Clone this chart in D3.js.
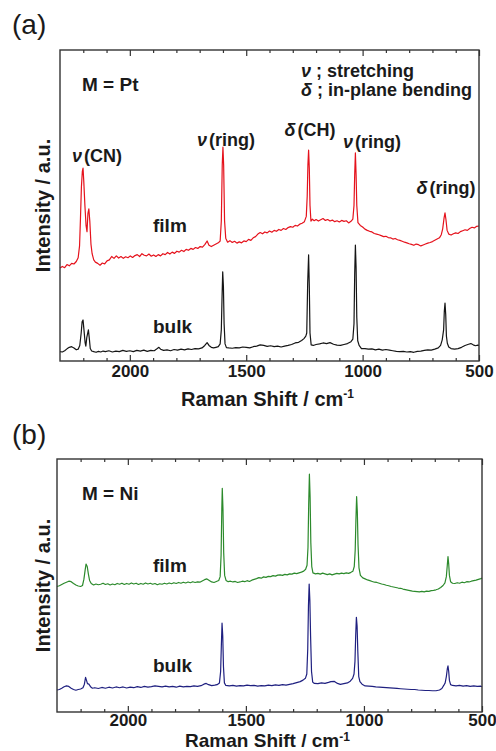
<!DOCTYPE html>
<html>
<head>
<meta charset="utf-8">
<script src="https://cdn.jsdelivr.net/npm/d3@7/dist/d3.min.js"></script>
<style>
  body { margin: 0; background: #fff; }
  svg text { font-family: "Liberation Sans", Arial, sans-serif; font-weight: bold; fill: #1a1a1a; }
</style>
</head>
<body>
<svg id="chart" width="496" height="751"></svg>
<script>

// x axis (Raman shift, cm-1)
var shiftDomain = [2300, 500];
var majorTicks = [2000, 1500, 1000, 500];
var minorTicks = [2200, 2100, 1900, 1800, 1700, 1600, 1400, 1300, 1200, 1100, 900, 800, 700, 600];

// spectra: [raman shift, intensity a.u.]
var ptFilm = [
  [2300,29.9],[2290,30.4],[2280,30.0],[2270,31.0],[2260,30.6],[2250,31.4],[2240,31.2],[2230,32.0],
  [2222,33.2],[2216,37.0],[2212,46.0],[2208,56.0],[2204,61.0],[2201,62.0],[2198,58.0],[2193,50.0],
  [2188,43.5],[2184,41.6],[2180,47.5],[2176,48.9],[2172,45.0],[2167,37.6],[2162,34.5],[2155,32.5],
  [2148,31.8],[2138,31.4],[2128,30.8],[2118,31.5],[2108,31.2],[2098,32.2],[2088,32.5],[2078,33.6],
  [2068,33.0],[2058,33.8],[2048,33.1],[2038,33.6],[2028,33.0],[2018,33.5],[2008,33.2],[1998,33.8],
  [1988,33.3],[1978,33.9],[1968,34.2],[1958,33.6],[1948,34.5],[1938,34.0],[1928,33.8],[1918,34.4],
  [1908,33.7],[1898,34.1],[1888,33.6],[1878,34.2],[1868,33.8],[1858,34.5],[1848,34.2],[1838,34.9],
  [1828,34.4],[1818,35.0],[1808,34.6],[1798,35.3],[1788,35.0],[1778,35.6],[1768,35.2],[1758,35.9],
  [1748,35.6],[1738,36.2],[1728,35.9],[1718,36.5],[1708,36.2],[1698,36.8],[1688,36.6],[1678,37.4],
  [1668,38.6],[1660,37.2],[1650,36.8],[1640,37.2],[1630,37.6],[1620,38.0],[1612,38.6],[1607,45.0],
  [1603,63.0],[1600,68.8],[1597,63.0],[1593,45.0],[1588,39.5],[1580,38.2],[1570,38.7],[1560,38.1],
  [1550,38.5],[1540,37.9],[1530,38.3],[1520,38.0],[1510,38.6],[1500,38.4],[1490,39.1],[1480,38.8],
  [1470,39.6],[1460,40.0],[1450,40.8],[1440,41.3],[1430,40.9],[1420,41.5],[1410,41.2],[1400,41.8],
  [1390,41.4],[1380,42.0],[1370,41.7],[1360,42.3],[1350,42.0],[1340,42.6],[1330,42.3],[1320,42.9],
  [1310,43.2],[1300,43.0],[1290,43.6],[1280,43.4],[1270,44.0],[1260,44.3],[1250,44.8],[1242,46.5],
  [1238,53.0],[1235,63.0],[1232,67.8],[1229,62.0],[1226,50.0],[1222,45.0],[1216,45.6],[1208,45.1],
  [1200,45.5],[1190,45.0],[1180,45.4],[1170,45.8],[1160,45.2],[1150,45.5],[1140,45.0],[1130,45.3],
  [1120,44.8],[1110,45.1],[1100,44.7],[1090,45.2],[1080,44.9],[1070,45.1],[1060,44.4],[1050,44.9],
  [1042,45.6],[1037,50.0],[1034,60.0],[1031,66.9],[1028,60.0],[1025,50.0],[1020,44.5],[1010,43.6],
  [1000,43.1],[990,42.4],[980,42.0],[970,41.7],[960,41.5],[950,41.0],[940,40.8],[930,40.6],
  [920,40.3],[910,40.0],[900,40.1],[890,39.7],[880,39.6],[870,39.2],[860,39.4],[850,39.0],
  [840,38.8],[830,38.5],[820,38.2],[810,38.0],[800,37.7],[790,37.5],[780,37.2],[770,37.6],
  [760,37.4],[750,37.0],[740,37.3],[730,37.6],[720,37.9],[710,38.1],[700,38.4],[690,38.8],
  [680,39.2],[670,39.6],[662,40.6],[656,42.5],[650,46.0],[646,47.6],[642,45.5],[637,42.0],
  [630,40.8],[620,40.5],[610,40.9],[600,41.2],[590,41.0],[580,41.6],[570,41.9],[560,42.2],
  [550,42.0],[540,42.6],[530,43.0],[520,42.8],[510,43.3],[500,43.4]
];

var ptBulk = [
  [2300,3.0],[2290,2.9],[2280,3.3],[2270,3.9],[2260,4.4],[2250,4.6],[2240,4.2],[2230,3.6],
  [2222,3.8],[2215,5.0],[2209,9.0],[2205,12.6],[2201,13.2],[2197,10.0],[2192,5.8],[2189,4.8],
  [2185,7.5],[2178,10.0],[2174,7.2],[2170,4.0],[2164,3.2],[2155,3.0],[2145,2.8],[2135,3.1],
  [2125,2.9],[2115,3.2],[2105,3.0],[2090,3.3],[2075,2.9],[2060,3.2],[2045,3.0],[2030,3.4],
  [2015,3.1],[2000,3.3],[1985,3.0],[1970,3.4],[1955,3.2],[1940,3.5],[1925,3.1],[1910,3.4],
  [1895,3.3],[1882,4.0],[1875,4.4],[1868,3.8],[1855,3.4],[1840,3.6],[1825,3.3],[1810,3.7],
  [1795,3.5],[1780,3.8],[1765,3.6],[1750,3.9],[1735,3.7],[1720,4.0],[1705,3.9],[1690,4.2],
  [1678,5.0],[1668,5.9],[1660,5.0],[1650,4.4],[1640,4.2],[1630,4.4],[1620,4.6],[1612,5.5],
  [1607,10.0],[1604,20.0],[1601,28.7],[1598,24.0],[1595,12.0],[1591,5.5],[1585,4.3],[1575,4.2],
  [1560,4.1],[1545,4.3],[1530,4.2],[1515,4.5],[1500,4.4],[1485,4.2],[1470,4.6],[1455,4.8],
  [1440,5.2],[1425,5.0],[1410,4.7],[1395,4.9],[1380,4.6],[1365,4.8],[1350,4.5],[1335,4.8],
  [1320,5.0],[1305,5.3],[1290,5.8],[1275,6.0],[1262,6.6],[1252,7.2],[1244,8.0],[1240,9.0],
  [1236,25.0],[1232,34.1],[1229,24.0],[1226,9.0],[1221,5.2],[1212,5.0],[1200,5.3],[1185,5.5],
  [1170,5.8],[1155,5.6],[1140,5.9],[1125,5.4],[1110,5.1],[1095,5.0],[1080,5.3],[1065,5.6],
  [1050,6.2],[1042,7.0],[1037,12.0],[1034,28.0],[1031,37.3],[1028,30.0],[1025,14.0],[1021,6.5],
  [1015,5.0],[1005,4.0],[990,4.0],[975,3.8],[960,3.9],[945,3.6],[930,3.8],[915,3.5],
  [900,3.7],[885,3.5],[870,3.3],[855,3.1],[840,3.0],[825,3.1],[810,2.9],[795,3.0],
  [780,2.8],[765,3.1],[750,3.2],[735,3.4],[720,3.6],[705,3.5],[690,3.8],[675,4.2],
  [665,5.0],[658,6.8],[652,10.0],[649,16.0],[646,18.6],[643,15.0],[640,8.0],[636,5.7],
  [630,4.5],[620,4.0],[605,3.8],[590,4.0],[575,4.4],[560,5.0],[545,5.4],[535,5.6],
  [525,5.2],[515,4.9],[505,5.1],[500,5.0]
];

var niFilm = [
  [2300,49.6],[2290,49.9],[2280,50.4],[2270,50.9],[2260,51.3],[2250,51.7],[2240,51.5],[2230,50.8],
  [2220,50.2],[2210,49.8],[2200,49.6],[2192,50.0],[2186,52.5],[2181,56.0],[2177,58.5],[2172,57.5],
  [2167,54.5],[2162,52.0],[2155,50.8],[2145,50.2],[2135,50.6],[2125,50.3],[2115,50.5],[2105,50.9],
  [2095,50.4],[2085,50.7],[2075,50.2],[2065,50.6],[2055,50.3],[2045,50.8],[2035,50.5],[2025,50.9],
  [2015,50.4],[2005,50.8],[1995,50.5],[1985,51.0],[1975,50.6],[1965,50.9],[1955,50.4],[1945,50.8],
  [1935,50.5],[1925,51.0],[1915,50.6],[1905,50.9],[1895,50.5],[1885,50.8],[1875,50.3],[1865,50.7],
  [1855,50.5],[1845,50.9],[1835,50.6],[1825,51.0],[1815,50.7],[1805,51.1],[1795,50.8],[1785,51.2],
  [1775,50.9],[1765,51.3],[1755,51.0],[1745,51.4],[1735,51.1],[1725,51.5],[1715,51.2],[1705,51.4],
  [1695,51.3],[1685,51.8],[1675,52.3],[1665,52.6],[1655,52.0],[1645,51.4],[1635,51.2],[1625,51.6],
  [1615,52.0],[1609,53.5],[1605,62.0],[1602,80.0],[1600,88.4],[1597,80.0],[1594,63.0],[1590,54.0],
  [1584,52.0],[1575,51.5],[1565,51.7],[1555,51.4],[1545,51.6],[1535,51.2],[1525,51.4],[1515,51.7],
  [1505,51.5],[1495,51.9],[1485,51.6],[1475,52.1],[1465,52.4],[1455,52.7],[1445,53.1],[1435,52.9],
  [1425,53.4],[1415,53.2],[1405,53.6],[1395,53.5],[1385,53.9],[1375,53.7],[1365,54.1],[1355,54.2],
  [1345,54.0],[1335,54.4],[1325,54.2],[1315,54.6],[1305,54.5],[1295,54.9],[1285,54.7],[1275,55.0],
  [1265,55.3],[1255,55.7],[1247,56.4],[1241,58.0],[1237,65.0],[1234,82.0],[1231,94.0],[1228,85.0],
  [1225,67.0],[1221,57.5],[1216,55.0],[1205,54.6],[1195,54.8],[1185,54.5],[1175,54.9],[1165,54.6],
  [1155,54.3],[1145,54.6],[1135,54.2],[1125,54.5],[1115,54.8],[1105,54.6],[1095,54.9],[1085,54.7],
  [1075,55.0],[1065,54.8],[1055,55.2],[1047,55.6],[1041,57.5],[1037,64.0],[1034,76.0],[1031,85.1],
  [1028,79.0],[1025,66.0],[1021,57.0],[1015,54.0],[1005,53.0],[995,52.6],[985,52.2],[975,51.9],
  [965,51.6],[955,51.3],[945,51.2],[935,50.9],[925,50.6],[915,50.4],[905,50.1],[895,49.9],
  [885,49.6],[875,49.4],[865,49.2],[855,49.0],[845,48.9],[835,48.6],[825,48.4],[815,48.2],
  [805,48.0],[795,47.8],[785,47.7],[775,47.6],[765,47.5],[755,47.7],[745,47.5],[735,47.8],
  [725,47.7],[715,48.0],[705,48.1],[695,48.3],[685,48.6],[675,49.2],[665,50.0],[657,51.0],
  [651,53.5],[647,58.0],[644,61.4],[641,58.5],[638,54.0],[633,51.5],[625,50.9],[615,50.8],
  [605,51.1],[595,50.9],[585,51.3],[575,51.1],[565,51.5],[555,51.4],[545,51.7],[535,51.9],
  [525,52.1],[515,52.4],[505,52.7],[500,52.9]
];

var niBulk = [
  [2300,8.7],[2290,8.9],[2280,9.4],[2270,10.0],[2260,10.3],[2250,10.1],[2240,9.4],[2230,8.9],
  [2220,8.6],[2210,8.9],[2200,9.1],[2190,9.6],[2184,11.0],[2179,13.7],[2175,12.5],[2171,11.2],
  [2165,11.0],[2158,10.0],[2150,9.4],[2140,9.6],[2125,9.3],[2110,9.7],[2095,9.4],[2080,9.8],
  [2065,9.5],[2050,9.9],[2035,9.6],[2020,9.9],[2005,9.5],[1990,9.8],[1975,9.6],[1960,10.0],
  [1945,9.7],[1930,10.1],[1915,9.8],[1900,10.0],[1885,10.3],[1870,10.1],[1855,9.9],[1840,10.2],
  [1825,9.9],[1810,10.1],[1795,9.8],[1780,10.2],[1765,9.9],[1750,10.1],[1735,10.0],[1720,10.3],
  [1705,10.1],[1690,10.4],[1678,11.0],[1668,11.3],[1658,10.8],[1645,10.4],[1632,10.6],[1622,10.8],
  [1612,11.5],[1607,16.0],[1604,26.0],[1601,35.1],[1598,30.0],[1595,18.0],[1591,11.5],[1585,10.5],
  [1570,10.3],[1555,10.5],[1540,10.2],[1525,10.4],[1510,10.3],[1495,10.6],[1480,10.4],[1465,10.5],
  [1450,10.2],[1435,10.4],[1420,10.3],[1405,10.6],[1390,10.4],[1375,10.7],[1360,10.5],[1345,10.8],
  [1330,10.6],[1315,10.9],[1300,11.2],[1285,11.6],[1270,12.0],[1258,12.6],[1248,13.3],[1242,15.0],
  [1238,25.0],[1235,42.0],[1232,50.6],[1229,44.0],[1226,30.0],[1222,16.0],[1217,11.8],[1210,11.3],
  [1195,11.2],[1180,11.5],[1165,11.3],[1150,11.7],[1140,12.0],[1125,12.1],[1112,11.3],[1100,10.9],
  [1085,11.2],[1070,11.5],[1058,12.2],[1048,13.3],[1042,15.0],[1038,20.0],[1035,30.0],[1032,37.4],
  [1029,34.0],[1026,24.0],[1022,14.0],[1017,12.0],[1008,11.0],[995,10.3],[980,10.2],[965,10.1],
  [950,9.9],[935,9.8],[920,9.7],[905,9.6],[890,9.5],[875,9.4],[860,9.3],[845,9.2],
  [830,9.1],[815,9.0],[800,8.9],[785,8.9],[770,8.7],[755,8.6],[740,8.5],[725,8.5],
  [710,8.4],[695,8.4],[680,8.7],[670,9.3],[662,10.5],[656,11.5],[651,14.0],[647,17.0],
  [644,18.2],[641,16.0],[638,12.5],[633,10.8],[625,10.5],[610,10.3],[595,10.5],[580,10.2],
  [565,10.4],[550,10.1],[535,10.3],[520,10.1],[505,10.2],[500,10.0]
];

// peak assignments for the Pt panel
var peakLabels = [
  {sym: "\u03bd", rest: "(CN)",   x: 97,  y: 162},
  {sym: "\u03bd", rest: "(ring)", x: 226, y: 146},
  {sym: "\u03b4", rest: "(CH)",   x: 310, y: 136},
  {sym: "\u03bd", rest: "(ring)", x: 372, y: 148},
  {sym: "\u03b4", rest: "(ring)", x: 446, y: 194}
];

var panels = [
  {tag: "(a)", metal: "M = Pt", film: ptFilm, bulk: ptBulk, filmColor: "#e5121c", bulkColor: "#151515",
   left: 60, right: 479, top: 50, bottom: 361, tagY: 34, titleY: 406, titleSize: 20, supDy: -8, pad: 4,
   filmY: 232, bulkY: 333, notes: true},
  {tag: "(b)", metal: "M = Ni", film: niFilm, bulk: niBulk, filmColor: "#2c8a2c", bulkColor: "#1f2080",
   left: 57, right: 482, top: 459, bottom: 712, tagY: 444, titleY: 747, titleSize: 19, supDy: -6, pad: 2,
   filmY: 572, bulkY: 672, notes: false}
];

var svg = d3.select("#chart");

panels.forEach(function(p) {
  var x = d3.scaleLinear().domain(shiftDomain).range([p.left, p.right]);
  var y = d3.scaleLinear().domain([0, 100]).range([p.bottom, p.top]);
  var g = svg.append("g");

  var line = d3.line()
    .x(function(d) { return x(d[0]); })
    .y(function(d) { return y(d[1]); });

  // spectra
  [[p.bulk, p.bulkColor], [p.film, p.filmColor]].forEach(function(s) {
    g.append("path")
      .datum(s[0])
      .attr("fill", "none")
      .attr("stroke", s[1])
      .attr("stroke-width", 1.2)
      .attr("stroke-linejoin", "round")
      .attr("d", line);
  });

  // inward ticks, bottom and top
  var axes = [
    {ax: d3.axisBottom, pos: p.bottom, vals: minorTicks, len: 3, lab: false},
    {ax: d3.axisBottom, pos: p.bottom, vals: majorTicks, len: 6, lab: true},
    {ax: d3.axisTop, pos: p.top, vals: minorTicks, len: 3, lab: false},
    {ax: d3.axisTop, pos: p.top, vals: majorTicks, len: 6, lab: false}
  ];
  axes.forEach(function(a) {
    var gen = a.ax(x).tickValues(a.vals).tickSize(-a.len).tickPadding(p.pad)
      .tickFormat(a.lab ? d3.format("d") : "");
    var ga = g.append("g").attr("transform", "translate(0," + a.pos + ")").call(gen);
    ga.select(".domain").remove();
    ga.selectAll("line").attr("stroke", "#333").attr("stroke-width", 1.2);
    ga.selectAll("text")
      .style("font-size", "17px")
      .attr("fill", "#1a1a1a");
    ga.attr("font-family", null).attr("font-size", null);
  });

  // frame
  g.append("rect")
    .attr("x", p.left).attr("y", p.top)
    .attr("width", p.right - p.left).attr("height", p.bottom - p.top)
    .attr("fill", "none").attr("stroke", "#333").attr("stroke-width", 1.4);

  // panel tag
  svg.append("text").attr("x", 12).attr("y", p.tagY)
    .style("font-size", "28px").style("font-weight", "normal").text(p.tag);

  // x title
  var t = svg.append("text")
    .attr("x", (p.left + p.right) / 2 - 2).attr("y", p.titleY)
    .attr("text-anchor", "middle").style("font-size", p.titleSize + "px");
  t.append("tspan").text("Raman Shift / cm");
  t.append("tspan").attr("dy", p.supDy).style("font-size", "12px").text("-1");

  // y title
  svg.append("text")
    .attr("transform", "translate(50," + (p.top + p.bottom) / 2 + ") rotate(-90)")
    .attr("text-anchor", "middle").style("font-size", "20px")
    .text("Intensity / a.u.");

  g.append("text").attr("x", 82).attr("y", p.top + 41).style("font-size", "19px").text(p.metal);
  g.append("text").attr("x", 153).attr("y", p.filmY).style("font-size", "19px").text("film");
  g.append("text").attr("x", 153).attr("y", p.bulkY).style("font-size", "19px").text("bulk");

  if (p.notes) {
    var legend = [
      {sym: "\u03bd", rest: " ; stretching", y: 77},
      {sym: "\u03b4", rest: " ; in-plane bending", y: 96}
    ];
    legend.forEach(function(l) {
      var lt = g.append("text").attr("x", 301).attr("y", l.y).style("font-size", "18px");
      lt.append("tspan").style("font-style", "italic").text(l.sym);
      lt.append("tspan").text(l.rest);
    });
    peakLabels.forEach(function(l) {
      var pt = g.append("text").attr("x", l.x).attr("y", l.y)
        .attr("text-anchor", "middle").style("font-size", "18px");
      pt.append("tspan").style("font-style", "italic").text(l.sym);
      pt.append("tspan").attr("dx", 2).text(l.rest);
    });
  }
});
</script>
</body>
</html>
